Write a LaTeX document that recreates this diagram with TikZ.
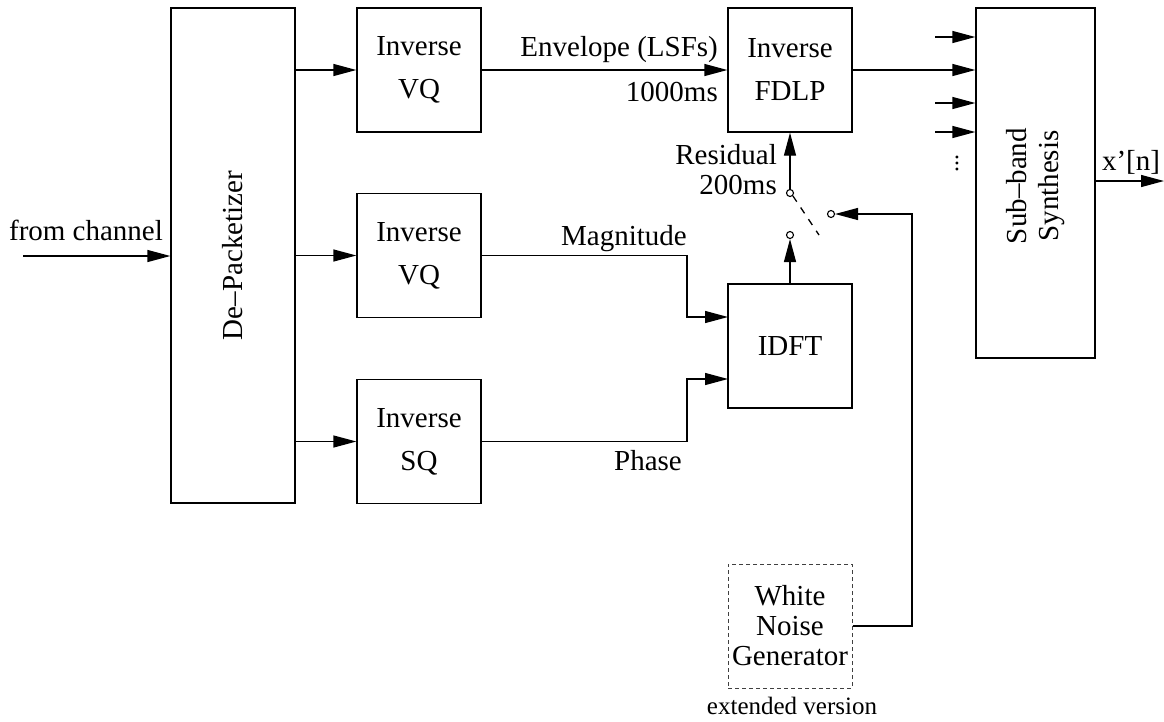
\documentclass[tikz,border=0pt]{standalone}
\usepackage{fontspec}
\setmainfont{Liberation Serif}
\usetikzlibrary{arrows.meta}
\begin{document}
\begin{tikzpicture}[x=1pt,y=-1pt,
  blk/.style={draw, line width=1.3pt, rectangle, minimum width=124pt, minimum height=124pt, inner sep=0pt, align=center, font=\fontsize{29}{43}\selectfont},
  lbl/.style={inner sep=0pt, font=\fontsize{29}{30}\selectfont},
  arr/.style={line width=1.3pt, -{Triangle[length=23pt,width=12pt]}},
  ln/.style={line width=1.3pt},
  sw/.style={draw, circle, line width=1.1pt, minimum size=7pt, inner sep=0pt},
  dsh/.style={line width=1.3pt, dash pattern=on 7pt off 7pt}]
\useasboundingbox (0,0) rectangle (1164,721);

% blocks
\node[blk, minimum height=495pt] (dep) at (233,255.5) {};
\node[lbl, rotate=90] (deptxt) at (233,255.5) {De--Packetizer};
\node[blk] (ivq1) at (419,70) {Inverse\\VQ};
\node[blk] (ivq2) at (419,255.5) {Inverse\\VQ};
\node[blk] (isq) at (419,441.5) {Inverse\\SQ};
\node[blk] (fdlp) at (790,70) {Inverse\\FDLP};
\node[blk] (idft) at (790,346) {IDFT};
\node[blk, draw=black!75, line width=1pt, dash pattern=on 4pt off 3pt, font=\fontsize{29}{30}\selectfont] (wng) at (790,626) {White\\Noise\\Generator};
\node[blk, minimum width=119pt, minimum height=350pt] (sub) at (1035.5,183) {};
\node[lbl, rotate=90, align=center, font=\fontsize{29}{32}\selectfont] (subtxt) at (1036,186) {Sub--band\\Synthesis};

% switch
\node[sw] (s1) at (790,193) {};
\node[sw] (s2) at (790,235) {};
\node[sw] (s3) at (831,214) {};
\coordinate (swend) at (819,235);

% coordinates
\coordinate (inp) at (23,256);
\coordinate (mx) at (687,0);
\coordinate (idftA) at (728,317);
\coordinate (idftB) at (728,379);
\coordinate (nz) at (912,214);
\coordinate (in1) at (935,37);
\coordinate (in3) at (935,103);
\coordinate (in4) at (935,132);
\coordinate (outend) at (1164,181);

% connectors
\draw[arr] (inp) -- (inp -| dep.west);
\draw[arr] (ivq1.west -| dep.east) -- (ivq1.west);
\draw[arr] (ivq2.west -| dep.east) -- (ivq2.west);
\draw[arr] (isq.west -| dep.east) -- (isq.west);
\draw[arr] (ivq1.east) -- (fdlp.west);
\draw[arr] (ivq2.east) -- (mx |- ivq2.east) -- (mx |- idftA) -- (idftA);
\draw[arr] (isq.east) -- (mx |- isq.east) -- (mx |- idftB) -- (idftB);
\draw[arr] (idft.north) -- (s2.south);
\draw[arr] (s1.north) -- (fdlp.south);
\draw[dsh] (s1.south east) -- (swend);
\draw[arr] (wng.east) -| (nz) -- (s3.east);
\draw[arr] (fdlp.east) -- (fdlp.east -| sub.west);
\draw[arr] (in1) -- (in1 -| sub.west);
\draw[arr] (in3) -- (in3 -| sub.west);
\draw[arr] (in4) -- (in4 -| sub.west);
\draw[arr] (outend -| sub.east) -- (outend);

% labels
\node[lbl] (lfrom) at (86,230) {from channel};
\node[lbl, anchor=east] (lenv) at (718,50) {Envelope (LSFs)};
\node[lbl, anchor=east] (l1000) at (718,92) {1000ms};
\node[lbl, anchor=east] (lres) at (777,155) {Residual};
\node[lbl, anchor=east] (l200) at (777,185) {200ms};
\node[lbl, anchor=east] (lmag) at (687,239) {Magnitude};
\node[lbl] (lpha) at (648,461) {Phase};
\node[lbl] (lout) at (1131,162) {x’[n]};
\node[lbl, anchor=base, rotate=90, font=\fontsize{24}{26}\selectfont] (ldots) at (958,163.5) {...};
\node[lbl, font=\fontsize{25}{26}\selectfont] (lext) at (792,706) {extended version};
\end{tikzpicture}
\end{document}
